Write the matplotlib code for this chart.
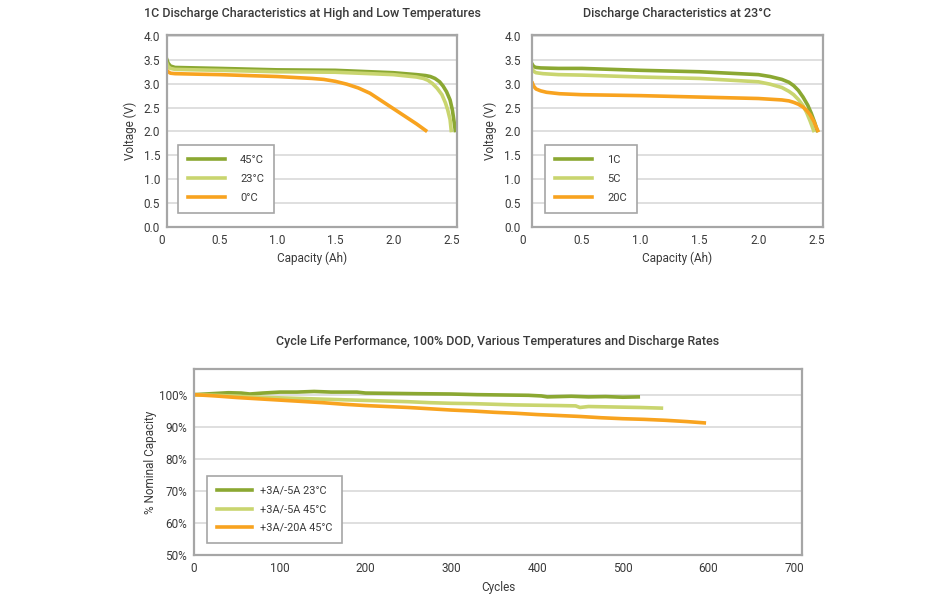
"""
Discharge curves and cycle life chart
"""

import numpy as np
import matplotlib
matplotlib.use('Agg')
from matplotlib import pyplot as plt
from matplotlib import transforms

plt.rcParams['font.family'] = ['Roboto', 'DejaVu Sans']

DARK = '#8ba832'
LIGHT = '#c9d56f'
ORANGE = '#f8a31f'
TEXT = '#3a3a3a'

# 1C discharge at different temperatures (capacity Ah, voltage V)
cap_45 = [0.05, 0.06, 0.08, 0.12, 0.3, 0.5, 1.0, 1.5, 2.0, 2.2, 2.28, 2.32, 2.36, 2.40, 2.43, 2.46, 2.49, 2.51, 2.525, 2.535]
volt_45 = [3.50, 3.43, 3.37, 3.34, 3.33, 3.32, 3.29, 3.28, 3.23, 3.19, 3.17, 3.15, 3.11, 3.04, 2.95, 2.83, 2.66, 2.45, 2.20, 2.02]
cap_23 = [0.05, 0.06, 0.08, 0.12, 0.3, 0.5, 1.0, 1.5, 2.0, 2.2, 2.26, 2.30, 2.34, 2.38, 2.42, 2.45, 2.47, 2.49, 2.50]
volt_23 = [3.42, 3.36, 3.32, 3.30, 3.29, 3.28, 3.25, 3.24, 3.19, 3.14, 3.11, 3.07, 3.00, 2.90, 2.77, 2.60, 2.45, 2.25, 2.02]
cap_0 = [0.05, 0.06, 0.08, 0.12, 0.3, 0.5, 1.0, 1.3, 1.4, 1.5, 1.6, 1.7, 1.8, 1.9, 2.0, 2.1, 2.2, 2.28]
volt_0 = [3.28, 3.25, 3.22, 3.21, 3.20, 3.19, 3.15, 3.11, 3.09, 3.05, 2.99, 2.91, 2.80, 2.64, 2.48, 2.32, 2.16, 2.02]

# discharge at 23C for different rates
cap_1c = [0.08, 0.09, 0.11, 0.15, 0.3, 0.5, 1.0, 1.5, 2.0, 2.1, 2.2, 2.26, 2.3, 2.34, 2.38, 2.42, 2.45, 2.48, 2.50]
volt_1c = [3.40, 3.36, 3.34, 3.33, 3.32, 3.32, 3.28, 3.25, 3.19, 3.15, 3.09, 3.03, 2.96, 2.86, 2.72, 2.55, 2.38, 2.18, 2.02]
cap_5c = [0.08, 0.09, 0.11, 0.17, 0.3, 0.5, 1.0, 1.5, 2.0, 2.1, 2.2, 2.26, 2.3, 2.34, 2.38, 2.41, 2.44, 2.47]
volt_5c = [3.30, 3.26, 3.23, 3.21, 3.19, 3.18, 3.14, 3.11, 3.04, 2.99, 2.92, 2.84, 2.77, 2.67, 2.54, 2.40, 2.22, 2.02]
cap_20c = [0.08, 0.09, 0.11, 0.15, 0.2, 0.31, 0.5, 1.0, 1.5, 2.0, 2.2, 2.26, 2.3, 2.34, 2.38, 2.41, 2.44, 2.47, 2.49, 2.505]
volt_20c = [3.01, 2.95, 2.89, 2.85, 2.82, 2.79, 2.77, 2.75, 2.72, 2.69, 2.66, 2.64, 2.61, 2.57, 2.51, 2.44, 2.35, 2.22, 2.10, 2.02]

# cycle life (cycles, % nominal capacity)
cyc_a = [0, 20, 40, 55, 65, 80, 100, 120, 140, 160, 190, 200, 230, 260, 300, 330, 360, 390, 405, 412, 440, 460, 480, 500, 518]
cap_a = [100.0, 100.3, 100.6, 100.5, 100.2, 100.5, 100.8, 100.8, 101.0, 100.8, 100.8, 100.5, 100.4, 100.3, 100.2, 100.0, 99.9, 99.8, 99.6, 99.3, 99.5, 99.3, 99.4, 99.2, 99.3]
cyc_b = [0, 25, 50, 75, 100, 125, 150, 175, 200, 225, 250, 275, 300, 325, 350, 375, 400, 425, 445, 450, 460, 480, 500, 520, 545]
cap_b = [100.0, 99.8, 99.5, 99.2, 99.0, 98.8, 98.6, 98.4, 98.2, 98.0, 97.8, 97.5, 97.3, 97.2, 97.0, 96.8, 96.7, 96.6, 96.5, 96.0, 96.3, 96.2, 96.1, 96.0, 95.8]
cyc_c = [0, 25, 50, 75, 100, 125, 150, 175, 200, 225, 250, 275, 300, 325, 350, 375, 400, 425, 450, 475, 500, 525, 550, 575, 595]
cap_c = [100.0, 99.6, 99.1, 98.7, 98.3, 97.9, 97.5, 97.0, 96.6, 96.3, 96.0, 95.6, 95.2, 94.9, 94.5, 94.2, 93.8, 93.5, 93.2, 92.8, 92.5, 92.3, 92.0, 91.6, 91.2]

fig = plt.figure(figsize=(9.47, 6.0), dpi=100)
ax1 = fig.add_axes([0.1763, 0.6217, 0.3063, 0.32])
ax2 = fig.add_axes([0.5615, 0.6217, 0.3076, 0.32])
ax3 = fig.add_axes([0.2049, 0.075, 0.642, 0.31])


def style(ax):
    ax.set_axisbelow(True)
    ax.grid(axis='y', color='#dcdcdc', linewidth=1.3)
    for s in ax.spines.values():
        s.set_color('#a6a6a6')
        s.set_linewidth(1.6)
    ax.tick_params(length=0, labelsize=8.5, colors=TEXT, pad=5)


def add_legend(ax, x, y, size=8, textpad=1.4):
    leg = ax.legend(loc='lower left', bbox_to_anchor=(x, y), borderaxespad=0,
                    fancybox=False, framealpha=1, edgecolor='#a6a6a6',
                    fontsize=size, handlelength=3.3, handletextpad=textpad,
                    labelspacing=0.8, borderpad=0.9, labelcolor=TEXT)
    leg.get_frame().set_linewidth(1.2)
    return leg


lw = 2.6
ax1.plot(cap_45, volt_45, color=DARK, lw=lw, label='45°C')
ax1.plot(cap_23, volt_23, color=LIGHT, lw=lw, label='23°C')
ax1.plot(cap_0, volt_0, color=ORANGE, lw=lw, label='0°C')
ax1.set_title('1C Discharge Characteristics at High and Low Temperatures',
              fontsize=9, color=TEXT, pad=13, fontweight='medium')

ax2.plot(cap_1c, volt_1c, color=DARK, lw=lw, label='1C')
ax2.plot(cap_5c, volt_5c, color=LIGHT, lw=lw, label='5C')
ax2.plot(cap_20c, volt_20c, color=ORANGE, lw=lw, label='20C')
ax2.set_title('Discharge Characteristics at 23°C', fontsize=9, color=TEXT, pad=13,
              fontweight='medium')

for ax, x0, xl, ypad in ((ax1, 0.05, 0.038, 5), (ax2, 0.074, 0.046, 8)):
    style(ax)
    ax.tick_params(axis='y', pad=ypad)
    ax.set_xlim(x0, 2.55)
    ax.set_ylim(0, 4.02)
    ax.set_xticks([0.5, 1.0, 1.5, 2.0, 2.5])
    ax.set_xticklabels(['0.5', '1.0', '1.5', '2.0', '2.5'])
    # the "0" label sits left of the plot edge, where zero would be
    trans = transforms.blended_transform_factory(ax.transData, ax.transAxes)
    ax.text(0, -0.036, '0', transform=trans, ha='center', va='top',
            fontsize=8.5, color=TEXT, clip_on=False)
    ax.set_yticks(np.arange(0, 4.01, 0.5))
    ax.set_yticklabels(['%.1f' % v for v in np.arange(0, 4.01, 0.5)])
    ax.set_xlabel('Capacity (Ah)', fontsize=8.5, color=TEXT, labelpad=3)
    ax.set_ylabel('Voltage (V)', fontsize=8.5, color=TEXT, labelpad=5)
    add_legend(ax, xl, 0.073)

ax3.plot(cyc_a, cap_a, color=DARK, lw=lw, label='+3A/-5A 23°C')
ax3.plot(cyc_b, cap_b, color=LIGHT, lw=lw, label='+3A/-5A 45°C')
ax3.plot(cyc_c, cap_c, color=ORANGE, lw=lw, label='+3A/-20A 45°C')
style(ax3)
ax3.set_xlim(0, 709)
ax3.set_ylim(50, 108)
ax3.set_xticks(range(0, 701, 100))
ax3.set_yticks(range(50, 101, 10))
ax3.set_yticklabels(['%d%%' % v for v in range(50, 101, 10)])
ax3.set_xlabel('Cycles', fontsize=8.5, color=TEXT, labelpad=4)
ax3.set_ylabel('% Nominal Capacity', fontsize=8.5, color=TEXT, labelpad=1)
ax3.set_title('Cycle Life Performance, 100% DOD, Various Temperatures and Discharge Rates',
              fontsize=9, color=TEXT, pad=17, fontweight='medium')
add_legend(ax3, 0.021, 0.066, size=7.8, textpad=0.7)

fig.savefig('out.png', dpi=100)
